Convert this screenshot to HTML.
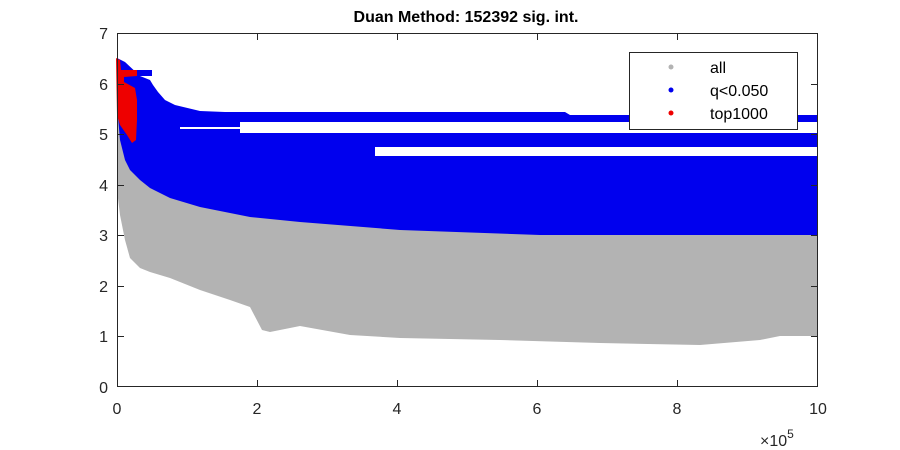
<!DOCTYPE html>
<html><head><style>body{margin:0;background:#fff}svg{display:block}text{font-family:"Liberation Sans","DejaVu Sans",sans-serif}</style></head><body>
<svg width="900" height="450" viewBox="0 0 900 450">
<rect width="900" height="450" fill="#fff"/>
<!-- gray -->
<polygon fill="#b3b3b3" points="117,100 117,190 120,215 125,240 130,258 140,268 150,272 170,278 200,290 230,300 250,307 262,330 270,332 300,326 350,335 400,338 500,340 600,343 700,345 760,340 780,336 818,336 818,200 200,200 117,100"/>
<!-- blue main -->
<polygon fill="#0000ee" points="117,58 117,105 120,140 125,160 130,170 140,180 150,188 170,198 200,207 250,217 300,222 400,230 540,235 818,235 818,115 570,115 565,112 225,112 200,111 175,105 165,100 158,92 153,85 150,80 140,76 125,62"/>
<polygon fill="#0000ee" points="117,70 152,70 152,76 117,76"/>
<rect x="240" y="122" width="578" height="11" fill="#fff"/>
<rect x="180" y="127" width="60" height="2" fill="#fff"/>
<rect x="375" y="147" width="443" height="9" fill="#fff"/>
<!-- red -->
<polygon fill="#ee0000" points="116,58 120,60 121,70 137,70 137,76 124,77 124,82 135,88 137,100 137,120 136,140 132,143 127,135 120,125 117,115"/>
<!-- axes -->
<g stroke="#262626" stroke-width="1" fill="none">
<rect x="117.5" y="33.5" width="700" height="353"/>
<path d="M257.5,387v-7M397.5,387v-7M537.5,387v-7M677.5,387v-7M257.5,33v7M397.5,33v7M537.5,33v7M677.5,33v7M117,336.5h7M117,286.5h7M117,235.5h7M117,185.5h7M117,134.5h7M117,84.5h7M818,336.5h-7M818,286.5h-7M818,235.5h-7M818,185.5h-7M818,134.5h-7M818,84.5h-7"/>
</g>
<g font-size="16" fill="#262626" text-anchor="end">
<text x="108" y="393">0</text><text x="108" y="342">1</text><text x="108" y="292">2</text><text x="108" y="241">3</text><text x="108" y="191">4</text><text x="108" y="140">5</text><text x="108" y="90">6</text><text x="108" y="39">7</text>
</g>
<g font-size="16" fill="#262626" text-anchor="middle">
<text x="117" y="414">0</text><text x="257" y="414">2</text><text x="397" y="414">4</text><text x="537" y="414">6</text><text x="677" y="414">8</text><text x="818" y="414">10</text>
</g>
<text x="760" y="446" font-size="16" fill="#262626">×10<tspan font-size="12" dy="-8">5</tspan></text>
<text x="466" y="22" font-size="16" font-weight="bold" text-anchor="middle" fill="#000">Duan Method: 152392 sig. int.</text>
<!-- legend -->
<rect x="629.5" y="52.5" width="168" height="77" fill="#fff" stroke="#262626"/>
<circle cx="671" cy="67" r="2.5" fill="#b3b3b3"/>
<circle cx="671" cy="90" r="2.5" fill="#0000ee"/>
<circle cx="671" cy="113" r="2.5" fill="#ee0000"/>
<g font-size="16" fill="#000"><text x="710" y="73">all</text><text x="710" y="96">q&lt;0.050</text><text x="710" y="119">top1000</text></g>
</svg>
</body></html>
